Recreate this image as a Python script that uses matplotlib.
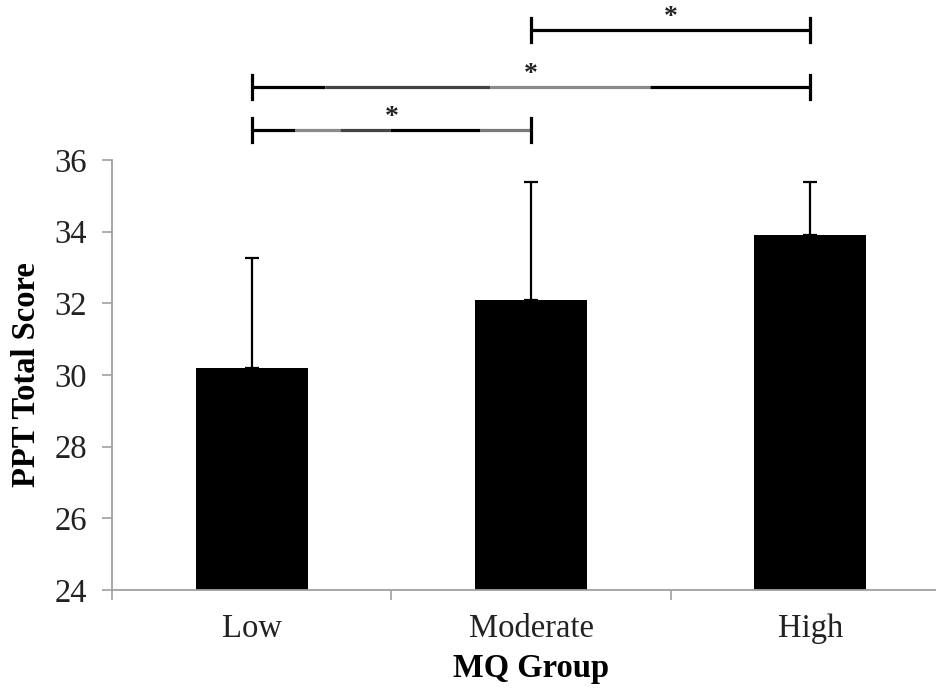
# PPT total score by MQ group, bars with upper error and significance brackets

import numpy as np
import matplotlib
matplotlib.use('Agg')
import matplotlib.pyplot as plt

plt.rcParams['font.family'] = ['Liberation Serif', 'DejaVu Serif']

groups = ['Low', 'Moderate', 'High']
means = [30.2, 32.1, 33.9]
errors = [3.07, 3.28, 1.5]

yticks = [24, 26, 28, 30, 32, 34, 36]


def bracket(ax, x0, x1, y, h, segs=None):
	""" draw bracket line with end ticks and an asterisk above """
	if segs == None:
		ax.plot([x0, x1], [y, y], color='black', lw=2.3, clip_on=False, solid_capstyle='butt')
	else:
		for a, b, c in segs:
			ax.plot([a, b], [y, y], color=c, lw=2.3, clip_on=False, solid_capstyle='butt')
	for xe in [x0, x1]:
		ax.plot([xe, xe], [y - h, y + h], color='black', lw=2.3, clip_on=False)
	ax.text((x0 + x1) / 2.0, y + 0.36, '*', ha='center', va='center', fontsize=20,
		fontweight='bold', color='#222222', clip_on=False)


fig = plt.figure(figsize=(9.36, 6.89), dpi=100)
ax = fig.add_axes([112 / 936.0, 99 / 689.0, 838 / 936.0, 430 / 689.0])

x = np.arange(len(groups))
ax.bar(x, means, width=0.4, color='black', zorder=2)
ax.errorbar(x, means, yerr=[np.zeros(len(errors)), errors], fmt='none', ecolor='black',
	elinewidth=1.6, capsize=5, capthick=1.6, zorder=3)

ax.set_xlim(-0.5, 2.5)
ax.set_ylim(24, 36)
ax.set_yticks(yticks)
ax.set_xticks(x)
ax.set_xticklabels(groups)
ax.set_xticks([-0.5, 0.5, 1.5, 2.5], minor=True)

for s in ['top', 'right']:
	ax.spines[s].set_visible(False)
for s in ['left', 'bottom']:
	ax.spines[s].set_color('#a0a0a0')
	ax.spines[s].set_linewidth(1.3)

ax.tick_params(axis='y', length=7, width=1.2, color='#a0a0a0', labelsize=23.5, pad=11, labelcolor='#222222')
ax.tick_params(axis='x', which='major', length=0, labelsize=23.5, pad=17, labelcolor='#222222')
ax.tick_params(axis='x', which='minor', length=7, width=1.2, color='#a0a0a0')

ax.set_ylabel('PPT Total Score', fontsize=23.5, fontweight='bold')
ax.yaxis.set_label_coords(-0.083, 0.5)
ax.set_xlabel('MQ Group', fontsize=23.5, fontweight='bold')
ax.xaxis.set_label_coords(0.5, -0.146)

# brackets, with the grey pieces seen in the original lines
h = 0.33
bracket(ax, 0, 1, 36.84, h, segs=[(0, 0.155, 'black'), (0.155, 0.316, '#8a8a8a'),
	(0.316, 0.495, '#444444'), (0.495, 0.817, 'black'), (0.817, 1, '#7a7a7a')])
bracket(ax, 0, 2, 38.04, h, segs=[(0, 0.262, 'black'), (0.262, 0.853, '#444444'),
	(0.853, 1.426, '#8a8a8a'), (1.426, 2, 'black')])
bracket(ax, 1, 2, 39.63, h)

plt.savefig('out.png', dpi=100)
